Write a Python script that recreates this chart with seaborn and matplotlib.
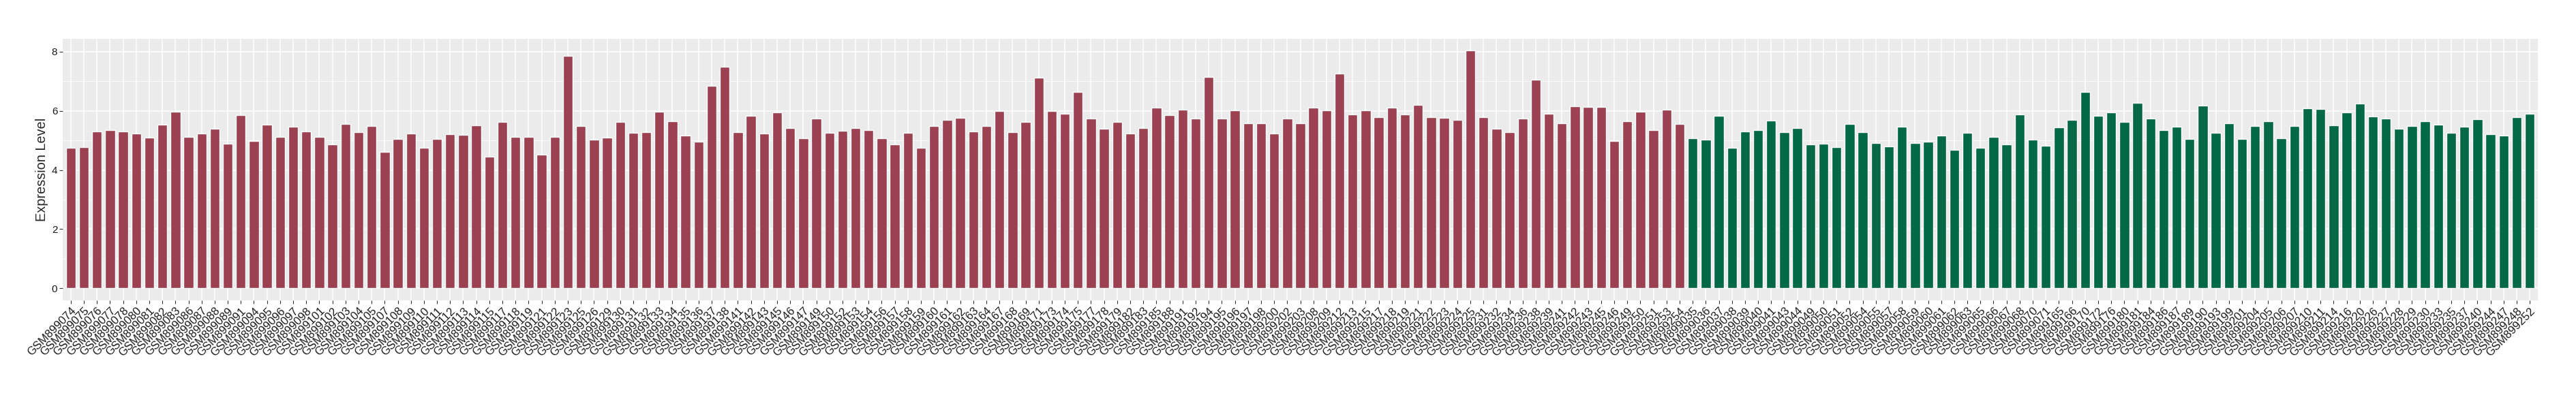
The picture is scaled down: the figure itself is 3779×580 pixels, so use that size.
import matplotlib
matplotlib.use('Agg')
import matplotlib.pyplot as plt
import seaborn as sns
import pandas as pd
from matplotlib.ticker import MultipleLocator

# ── Data ─────────────────────────────────────────────────────────────────────
red_samples = [
    'GSM899074', 'GSM899075', 'GSM899076', 'GSM899077', 'GSM899078', 'GSM899080',
    'GSM899081', 'GSM899082', 'GSM899083', 'GSM899086', 'GSM899087', 'GSM899088',
    'GSM899089', 'GSM899091', 'GSM899094', 'GSM899095', 'GSM899096', 'GSM899097',
    'GSM899098', 'GSM899101', 'GSM899102', 'GSM899103', 'GSM899104', 'GSM899105',
    'GSM899107', 'GSM899108', 'GSM899109', 'GSM899110', 'GSM899111', 'GSM899112',
    'GSM899113', 'GSM899114', 'GSM899115', 'GSM899117', 'GSM899118', 'GSM899119',
    'GSM899121', 'GSM899122', 'GSM899123', 'GSM899125', 'GSM899126', 'GSM899129',
    'GSM899130', 'GSM899131', 'GSM899132', 'GSM899133', 'GSM899134', 'GSM899135',
    'GSM899136', 'GSM899137', 'GSM899138', 'GSM899141', 'GSM899142', 'GSM899143',
    'GSM899145', 'GSM899146', 'GSM899147', 'GSM899149', 'GSM899150', 'GSM899152',
    'GSM899153', 'GSM899154', 'GSM899156', 'GSM899157', 'GSM899158', 'GSM899159',
    'GSM899160', 'GSM899161', 'GSM899162', 'GSM899163', 'GSM899164', 'GSM899167',
    'GSM899168', 'GSM899169', 'GSM899171', 'GSM899173', 'GSM899174', 'GSM899175',
    'GSM899177', 'GSM899178', 'GSM899179', 'GSM899182', 'GSM899183', 'GSM899185',
    'GSM899188', 'GSM899191', 'GSM899192', 'GSM899194', 'GSM899195', 'GSM899196',
    'GSM899197', 'GSM899198', 'GSM899200', 'GSM899202', 'GSM899203', 'GSM899208',
    'GSM899209', 'GSM899212', 'GSM899213', 'GSM899215', 'GSM899217', 'GSM899218',
    'GSM899219', 'GSM899221', 'GSM899222', 'GSM899223', 'GSM899224', 'GSM899225',
    'GSM899231', 'GSM899232', 'GSM899234', 'GSM899236', 'GSM899238', 'GSM899239',
    'GSM899241', 'GSM899242', 'GSM899243', 'GSM899245', 'GSM899246', 'GSM899249',
    'GSM899250', 'GSM899251', 'GSM899253', 'GSM899254',
]
red_values = [
    4.74, 4.77, 5.30, 5.36, 5.30, 5.23, 5.09, 5.53, 5.97, 5.13, 5.23, 5.39,
    4.89, 5.85, 4.97, 5.53, 5.12, 5.46, 5.30, 5.12, 4.86, 5.55, 5.28, 5.48,
    4.61, 5.04, 5.23, 4.74, 5.04, 5.20, 5.19, 5.51, 4.44, 5.62, 5.13, 5.13,
    4.51, 5.13, 7.86, 5.48, 5.02, 5.09, 5.62, 5.25, 5.28, 5.97, 5.65, 5.16,
    4.96, 6.84, 7.49, 5.28, 5.83, 5.23, 5.94, 5.42, 5.07, 5.74, 5.25, 5.32,
    5.42, 5.36, 5.07, 4.86, 5.25, 4.74, 5.48, 5.69, 5.76, 5.30, 5.48, 5.99,
    5.28, 5.62, 7.12, 5.99, 5.90, 6.64, 5.74, 5.39, 5.62, 5.23, 5.42, 6.11,
    5.85, 6.04, 5.74, 7.15, 5.74, 6.01, 5.59, 5.59, 5.23, 5.74, 5.59, 6.11,
    6.01, 7.26, 5.88, 6.01, 5.78, 6.11, 5.88, 6.20, 5.78, 5.76, 5.69, 8.04,
    5.78, 5.39, 5.28, 5.74, 7.05, 5.90, 5.59, 6.15, 6.13, 6.13, 4.97, 5.65,
    5.97, 5.36, 6.04, 5.55,
]
green_samples = [
    'GSM899035', 'GSM899036', 'GSM899037', 'GSM899038', 'GSM899039', 'GSM899040',
    'GSM899041', 'GSM899043', 'GSM899044', 'GSM899049', 'GSM899050', 'GSM899051',
    'GSM899052', 'GSM899054', 'GSM899055', 'GSM899057', 'GSM899058', 'GSM899059',
    'GSM899060', 'GSM899061', 'GSM899062', 'GSM899063', 'GSM899065', 'GSM899066',
    'GSM899067', 'GSM899068', 'GSM899070', 'GSM899071', 'GSM899165', 'GSM899166',
    'GSM899170', 'GSM899172', 'GSM899176', 'GSM899180', 'GSM899181', 'GSM899184',
    'GSM899186', 'GSM899187', 'GSM899189', 'GSM899190', 'GSM899193', 'GSM899199',
    'GSM899201', 'GSM899204', 'GSM899205', 'GSM899206', 'GSM899207', 'GSM899210',
    'GSM899211', 'GSM899214', 'GSM899216', 'GSM899220', 'GSM899226', 'GSM899227',
    'GSM899228', 'GSM899229', 'GSM899230', 'GSM899233', 'GSM899235', 'GSM899237',
    'GSM899240', 'GSM899244', 'GSM899247', 'GSM899248', 'GSM899252',
]
green_values = [
    5.07, 5.02, 5.83, 4.74, 5.30, 5.36, 5.66, 5.28, 5.42, 4.86, 4.89, 4.77,
    5.55, 5.28, 4.90, 4.79, 5.46, 4.90, 4.96, 5.16, 4.67, 5.25, 4.74, 5.12,
    4.86, 5.88, 5.02, 4.81, 5.43, 5.69, 6.64, 5.83, 5.94, 5.62, 6.27, 5.74,
    5.36, 5.46, 5.04, 6.17, 5.25, 5.59, 5.04, 5.48, 5.65, 5.07, 5.48, 6.08,
    6.06, 5.51, 5.94, 6.24, 5.81, 5.74, 5.39, 5.48, 5.65, 5.53, 5.25, 5.46,
    5.71, 5.20, 5.16, 5.78, 5.90,
]
group_names = ['Group 1', 'Group 2']
group_colors = ['#9B4151', '#036846']

df = pd.DataFrame({
    'sample': red_samples + green_samples,
    'value': red_values + green_values,
    'group': [group_names[0]] * len(red_samples) + [group_names[1]] * len(green_samples),
})

# ── Style (ggplot-like grey panel) ───────────────────────────────────────────
sns.set_theme(style='darkgrid', rc={
    'axes.facecolor': '#EBEBEB',
    'grid.color': 'white',
    'axes.edgecolor': '#EBEBEB',
})
plt.rcParams['font.family'] = ['Liberation Sans', 'DejaVu Sans']

fig = plt.figure(figsize=(37.8, 5.8), dpi=100)
ax = fig.add_axes([0.02442, 0.24017, 0.98484 - 0.02442, 0.90224 - 0.24017])

sns.barplot(data=df, x='sample', y='value', hue='group', order=df['sample'],
            palette=dict(zip(group_names, group_colors)), width=0.75,
            dodge=False, legend=False, saturation=1, ax=ax)

n = len(df)
ymax = df['value'].max()
ax.set_xlim(-0.6, n - 0.4)
ax.set_ylim(-0.05 * ymax, 1.05 * ymax)

ax.yaxis.set_major_locator(MultipleLocator(2))
ax.yaxis.set_minor_locator(MultipleLocator(1))
ax.grid(which='major', color='white', linewidth=1.1)
ax.grid(which='minor', axis='y', color='white', linewidth=0.55)
ax.set_axisbelow(True)
for s in ax.spines.values():
    s.set_visible(False)

ax.tick_params(axis='both', which='major', length=3.8, width=0.8, color='#333333',
               labelcolor='#1a1a1a', bottom=True, left=True, pad=2)
ax.tick_params(axis='y', which='minor', length=0)
ax.tick_params(axis='y', labelsize=11)
ax.set_xticks(range(n))
ax.set_xticklabels(df['sample'], rotation=45, ha='right', va='top',
                   rotation_mode='anchor', fontsize=12)

ax.set_xlabel('')
ax.set_ylabel('Expression Level', fontsize=14.3, labelpad=3.5)

fig.savefig('out.png', dpi=100)
